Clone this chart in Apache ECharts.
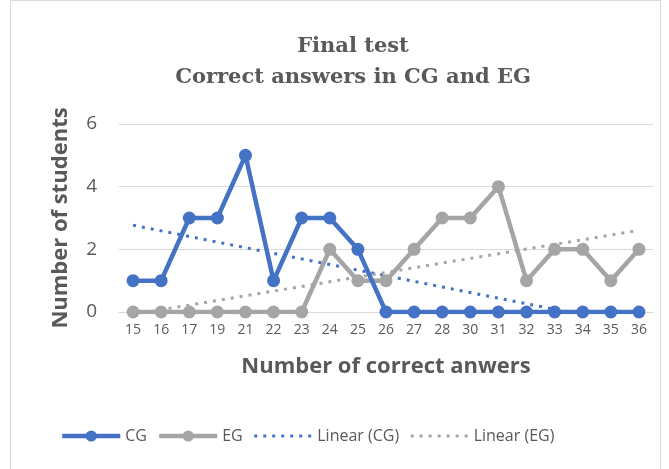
<!DOCTYPE html>
<html><head><meta charset="utf-8">
<script src="https://cdn.jsdelivr.net/npm/echarts@6/dist/echarts.min.js"></script>
<style>html,body{margin:0;padding:0;background:#fff}#c{width:669px;height:469px}</style>
</head><body><div id="c"></div>
<script>
const categories = ['15','16','17','19','21','22','23','24','25','26','27','28','30','31','32','33','34','35','36'];
const cgValues = [1,1,3,3,5,1,3,3,2,0,0,0,0,0,0,0,0,0,0];
const egValues = [0,0,0,0,0,0,0,2,1,1,2,3,3,4,1,2,2,1,2];
const yTicks = [0,2,4,6];

function linearFit(ys){
  const n = ys.length;
  let sx=0, sy=0, sxy=0, sxx=0;
  for(let i=0;i<n;i++){const x=i+1; sx+=x; sy+=ys[i]; sxy+=x*ys[i]; sxx+=x*x;}
  const b=(n*sxy-sx*sy)/(n*sxx-sx*sx);
  const a=(sy-b*sx)/n;
  return ys.map((_,i)=>a+b*(i+1));
}
const cgTrend = linearFit(cgValues);
const egTrend = linearFit(egValues);

const grey='#595959', blue='#4472C4', lgrey='#A5A5A5';
const chart = echarts.init(document.getElementById('c'));
chart.setOption({
  backgroundColor:'#fff',
  animation:false,
  graphic:[{type:'rect',shape:{x:10.5,y:0.5,width:650,height:480},style:{fill:'none',stroke:'#d9d9d9',lineWidth:1},silent:true}],
  title:{
    text:'Final test\nCorrect answers in CG and EG',
    left:348, top:26, textAlign:'center',
    textStyle:{fontFamily:'DejaVu Serif',fontWeight:'bold',fontSize:21,color:grey,lineHeight:31}
  },
  legend:{
    bottom:20, left:55, itemWidth:58, itemHeight:14, itemGap:10,
    textStyle:{fontFamily:'Open Sans',fontSize:16,color:grey},
    data:[
      {name:'CG',lineStyle:{width:4.5}},
      {name:'EG',lineStyle:{width:4.5}},
      {name:'Linear (CG)',itemStyle:{opacity:0},lineStyle:{width:3}},
      {name:'Linear (EG)',itemStyle:{opacity:0},lineStyle:{width:3}}
    ]
  },
  grid:{left:119,right:16,top:124,bottom:157},
  xAxis:{
    type:'category', data:categories, boundaryGap:true,
    name:'Number of correct anwers', nameLocation:'middle', nameGap:44,
    nameTextStyle:{fontFamily:'Open Sans',fontWeight:'bold',fontSize:22,color:grey},
    axisLine:{lineStyle:{color:'#d9d9d9'}}, axisTick:{show:false},
    axisLabel:{color:grey,fontFamily:'Open Sans',fontSize:14,margin:11,interval:0}
  },
  yAxis:{
    type:'value', min:yTicks[0], max:yTicks[yTicks.length-1], interval:2,
    name:'Number of students', nameLocation:'middle', nameGap:47,
    nameTextStyle:{fontFamily:'Open Sans',fontWeight:'bold',fontSize:22,color:grey},
    axisLine:{show:false}, axisTick:{show:false},
    axisLabel:{color:grey,fontFamily:'Open Sans',fontSize:19,margin:22},
    splitLine:{lineStyle:{color:'#d9d9d9',width:1}}
  },
  series:[
    {name:'EG',type:'line',data:egValues,symbol:'circle',symbolSize:13,z:2,
     lineStyle:{color:lgrey,width:4.5},itemStyle:{color:lgrey}},
    {name:'CG',type:'line',data:cgValues,symbol:'circle',symbolSize:13,z:3,
     lineStyle:{color:blue,width:4.5},itemStyle:{color:blue}},
    {name:'Linear (CG)',type:'line',data:cgTrend,symbol:'none',z:1,clip:true,
     lineStyle:{color:blue,width:3,type:[3,6]},itemStyle:{color:blue}},
    {name:'Linear (EG)',type:'line',data:egTrend,symbol:'none',z:1,clip:true,
     lineStyle:{color:lgrey,width:3,type:[3,6]},itemStyle:{color:lgrey}}
  ]
});
</script></body></html>
